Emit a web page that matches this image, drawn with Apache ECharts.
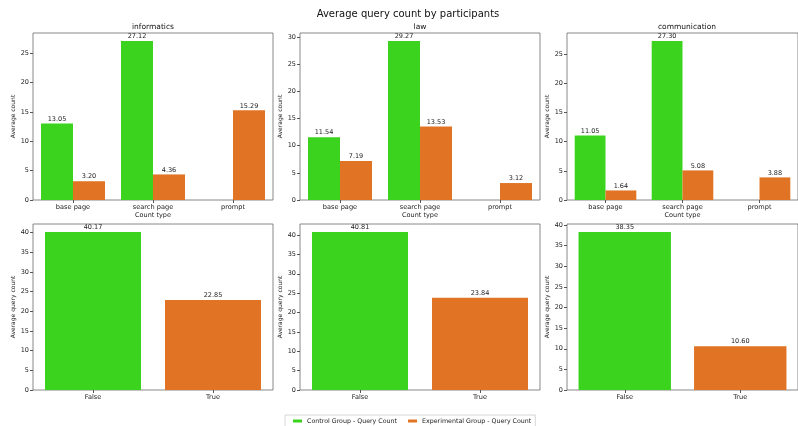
<!DOCTYPE html>
<html><head><meta charset="utf-8">
<script src="https://cdn.jsdelivr.net/npm/echarts@6/dist/echarts.min.js"></script>
<style>html,body{margin:0;padding:0;background:#fff}#c{width:798px;height:426px}</style>
</head><body><div id="c"></div>
<script>
const mainTitle = 'Average query count by participants';
const faculties = ['informatics', 'law', 'communication'];
const countTypes = ['base page', 'search page', 'prompt'];
const groupNames = ['Control Group - Query Count', 'Experimental Group - Query Count'];
const controlCounts = [
  [13.05, 27.12, null],
  [11.54, 29.27, null],
  [11.05, 27.30, null]
];
const experimentalCounts = [
  [3.20, 4.36, 15.29],
  [7.19, 13.53, 3.12],
  [1.64, 5.08, 3.88]
];
const promptFlags = ['False', 'True'];
const queryCounts = [
  [40.17, 22.85],
  [40.81, 23.84],
  [38.35, 10.60]
];
const colors = ['#3BD31E', '#E07424'];

const FONT = 'DejaVu Sans';
const lefts = [33, 300, 567];
const W = 240;
const grids = [], xAxes = [], yAxes = [], series = [], titles = [];
titles.push({text: mainTitle, left: 408, top: 9, padding: 0, textAlign: 'center',
  textStyle: {fontFamily: FONT, fontSize: 10, fontWeight: 'normal', color: '#111'}});

function ticks(maxV, step) { const t = []; for (let v = 0; v <= maxV + 1e-9; v += step) t.push(v); return t; }

function addPanel(idx, left, top, height, cats, maxV, yName, xName, sers) {
  grids.push({left: left, top: top, width: W, height: height, show: true,
    borderColor: '#6a6a6a', borderWidth: 0.8, backgroundColor: 'transparent'});
  xAxes.push({type: 'category', gridIndex: idx, data: cats,
    name: xName, nameLocation: 'middle', nameGap: 11,
    nameTextStyle: {fontFamily: FONT, fontSize: 6.5, color: '#222'},
    axisLine: {show: false}, axisTick: {show: true, alignWithLabel: true, length: 3, lineStyle: {color: '#555'}},
    axisLabel: {fontFamily: FONT, fontSize: 6.6, color: '#222', margin: 4}});
  const mx = maxV * 1.05;
  const tv = ticks(mx, 5);
  yAxes.push({type: 'value', gridIndex: idx, min: 0, max: mx,
    name: yName, nameLocation: 'middle', nameGap: 14,
    nameTextStyle: {fontFamily: FONT, fontSize: 6, color: '#222'},
    splitLine: {show: false}, axisLine: {show: false},
    axisTick: {show: true, length: 3, lineStyle: {color: '#555'}, customValues: tv},
    axisLabel: {fontFamily: FONT, fontSize: 6.5, color: '#222', margin: 4, customValues: tv}});
  sers.forEach(s => series.push(Object.assign({
    type: 'bar', xAxisIndex: idx, yAxisIndex: idx,
    barGap: '0%', barCategoryGap: '20%',
    label: {show: true, position: 'top', distance: 1, fontFamily: FONT, fontSize: 6.5, color: '#222',
      formatter: p => (p.value == null ? '' : Number(p.value).toFixed(2))}
  }, s)));
}

for (let i = 0; i < 3; i++) {
  const maxTop = Math.max(...controlCounts[i].filter(v => v != null), ...experimentalCounts[i]);
  addPanel(i, lefts[i], 33, 167, countTypes, maxTop, 'Average count', 'Count type', [
    {name: groupNames[0], data: controlCounts[i], itemStyle: {color: colors[0]}},
    {name: groupNames[1], data: experimentalCounts[i], itemStyle: {color: colors[1]}}
  ]);
  titles.push({text: faculties[i], left: lefts[i] + W / 2, top: 23, padding: 0, textAlign: 'center',
    textStyle: {fontFamily: FONT, fontSize: 7.5, fontWeight: 'normal', color: '#111'}});
}
for (let i = 0; i < 3; i++) {
  const q = queryCounts[i];
  addPanel(3 + i, lefts[i], 224, 166, promptFlags, Math.max(...q), 'Average query count', '', [
    {name: groupNames[0], stack: 'b' + i, data: [q[0], null], itemStyle: {color: colors[0]}},
    {name: groupNames[1], stack: 'b' + i, data: [null, q[1]], itemStyle: {color: colors[1]}}
  ]);
}

const chart = echarts.init(document.getElementById('c'), null, {renderer: 'canvas'});
chart.setOption({
  animation: false,
  title: titles,
  grid: grids, xAxis: xAxes, yAxis: yAxes, series: series,
  legend: {data: groupNames, left: 285, top: 415, orient: 'horizontal',
    icon: 'rect', itemWidth: 9, itemHeight: 3, itemGap: 11,
    borderColor: '#ccc', borderWidth: 0.8, padding: [3, 4, 3, 8],
    textStyle: {fontFamily: FONT, fontSize: 6.3, color: '#222'}}
});
</script></body></html>
